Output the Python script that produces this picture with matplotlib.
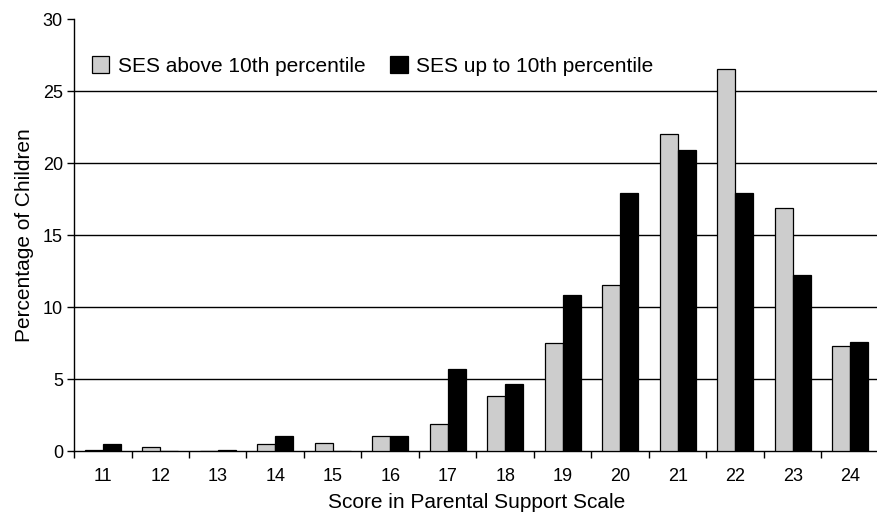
import numpy as np
import matplotlib.pyplot as plt

plt.rcParams['font.family'] = ['Liberation Sans', 'DejaVu Sans']

# scores and percentages
scores = [11, 12, 13, 14, 15, 16, 17, 18, 19, 20, 21, 22, 23, 24]
above_10th = [0.1, 0.25, 0.0, 0.5, 0.55, 1.05, 1.9, 3.8, 7.5, 11.5, 22.0, 26.5, 16.9, 7.3]
upto_10th = [0.5, 0.0, 0.1, 1.05, 0.0, 1.05, 5.7, 4.65, 10.8, 17.9, 20.9, 17.9, 12.2, 7.6]

fig = plt.figure(figsize=(8.77, 5.15), dpi=100)
ax = fig.add_axes([74 / 877, 64 / 515, 805 / 877, 432 / 515])

x = np.arange(len(scores))
w = 0.31
ax.bar(x - w / 2, above_10th, w, color='#cdcdcd', edgecolor='black', linewidth=0.9,
       label='SES above 10th percentile', zorder=3)
ax.bar(x + w / 2, upto_10th, w, color='black', edgecolor='black', linewidth=0.9,
       label='SES up to 10th percentile', zorder=3)

# horizontal grid lines
for yv in [5, 10, 15, 20, 25]:
    ax.axhline(yv, color='black', linewidth=1, zorder=1)

ax.set_xlim(-0.5, len(scores) - 0.5)
ax.set_ylim(0, 30)
ax.set_yticks([0, 5, 10, 15, 20, 25, 30])
ax.set_xticks(x)
ax.set_xticklabels([str(s) for s in scores], fontsize=13)
ax.set_xticks(np.arange(-0.5, len(scores)), minor=True)
ax.tick_params(axis='x', which='major', length=0, pad=12)
ax.tick_params(axis='x', which='minor', length=5, width=1)
ax.tick_params(axis='y', length=5, width=1, labelsize=13, pad=3)

for s in ['top', 'right']:
    ax.spines[s].set_visible(False)
ax.spines['left'].set_linewidth(1)
ax.spines['bottom'].set_linewidth(1)

ax.set_xlabel('Score in Parental Support Scale', fontsize=15, labelpad=6)
ax.set_ylabel('Percentage of Children', fontsize=15, labelpad=6)

ax.legend(loc='center left', bbox_to_anchor=(0.022, 0.891), ncol=2, frameon=False, fontsize=15,
          handlelength=0.85, handleheight=0.85, handletextpad=0.4, columnspacing=1.2,
          borderaxespad=0.0, borderpad=0.0)

fig.savefig('out.png', dpi=100)
